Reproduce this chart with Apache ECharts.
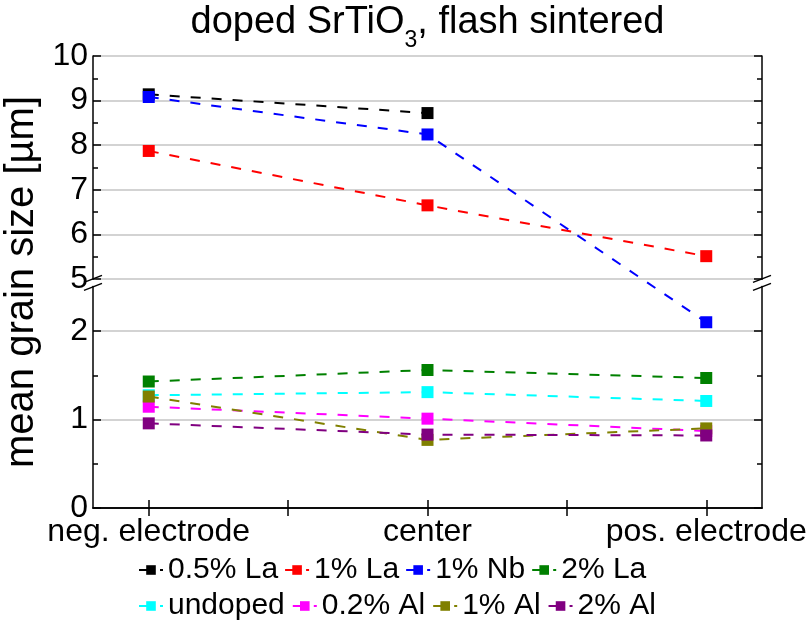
<!DOCTYPE html>
<html>
<head>
<meta charset="UTF-8">
<script src="https://cdn.jsdelivr.net/npm/echarts@6/dist/echarts.min.js"></script>
</head>
<body style="margin:0;background:#fff">
<div id="main" style="width:809px;height:621px"></div>
<script>
// positions along x
var categories = ['neg. electrode', 'center', 'pos. electrode'];
var catPos = [1, 2, 3];

// mean grain size [um], per sample: neg. electrode, center, pos. electrode
var la05 = [9.14, 8.72, null];
var la1 = [7.87, 6.65, 5.51];
var nb1 = [9.08, 8.24, 2.10];
var la2 = [1.43, 1.56, 1.47];
var undoped = [1.275, 1.31, 1.21];
var al02 = [1.145, 1.01, 0.87];
var al1 = [1.26, 0.77, 0.90];
var al2 = [0.957, 0.83, 0.82];

var names = ['0.5% La', '1% La', '1% Nb', '2% La', 'undoped', '0.2% Al', '1% Al', '2% Al'];
var colors = ['#000000', '#ff0000', '#0000ff', '#008000', '#00ffff', '#ff00ff', '#808000', '#800080'];
var values = [la05, la1, nb1, la2, undoped, al02, al1, al2];

var majorTicks = [0, 1, 2, 5, 6, 7, 8, 9, 10];
var minorTicks = [0.5, 1.5, 5.5, 6.5, 7.5, 8.5, 9.5];

// broken axis: 0..2.5 below, 5..10 above with a compressed scale
var LOW_MAX = 2.5, HIGH_MIN = 5, HIGH_MAX = 10;
var HIGH_RATIO = 0.504, GAP = 0.09;
function toAxis(v) {
    return v <= LOW_MAX ? v : LOW_MAX + GAP + (v - HIGH_MIN) * HIGH_RATIO;
}
function fromAxis(a) {
    return a <= LOW_MAX + 1e-6 ? a : HIGH_MIN + (a - LOW_MAX - GAP) / HIGH_RATIO;
}

var FONT = 'Liberation Sans, Arial, sans-serif';
var X_MIN = 0.8, X_MAX = 3.2;
var Y_MAX = toAxis(HIGH_MAX);

function yAx(pos, ticks, len, labels, line, split) {
    return {
        type: 'value', position: pos, min: 0, max: Y_MAX,
        axisLine: { show: line, lineStyle: { color: '#000', width: 1.5 } },
        axisTick: { show: true, inside: true, length: len, customValues: ticks.map(toAxis), lineStyle: { color: '#000', width: 1.5 } },
        axisLabel: labels ? {
            show: true, margin: 5, fontSize: 32, color: '#000', fontFamily: FONT,
            customValues: ticks.map(toAxis),
            formatter: function (v) { return String(Math.round(fromAxis(v))); }
        } : { show: false },
        splitLine: { show: split, lineStyle: { color: '#c4c4c4', width: 1.5 } }
    };
}

function xAx(pos, labels) {
    return {
        type: 'value', position: pos, min: X_MIN, max: X_MAX,
        axisLine: { show: true, lineStyle: { color: '#000', width: 1.5 } },
        axisTick: { show: true, inside: true, length: 8, customValues: [1, 1.5, 2, 2.5, 3], lineStyle: { color: '#000', width: 1.5 } },
        axisLabel: labels ? {
            show: true, margin: 8, fontSize: 32, color: '#000', fontFamily: FONT,
            customValues: catPos,
            formatter: function (v) { return categories[Math.round(v) - 1]; }
        } : { show: false },
        splitLine: { show: false }
    };
}

var series = names.map(function (n, i) {
    var pts = [];
    values[i].forEach(function (v, j) {
        if (v !== null) pts.push([catPos[j], toAxis(v)]);
    });
    return {
        name: n, type: 'line', data: pts,
        symbol: 'rect', symbolSize: 12,
        itemStyle: { color: colors[i] },
        lineStyle: { color: colors[i], width: 2, type: [10, 11] },
        z: 10 + i
    };
});

var legendText = { fontSize: 30, color: '#000', fontFamily: FONT };

var leftAxis = yAx('left', majorTicks, 8, true, true, true);
leftAxis.name = 'mean grain size [µm]';
leftAxis.nameLocation = 'middle';
leftAxis.nameGap = 31;
leftAxis.nameTextStyle = { fontSize: 40, color: '#000', fontFamily: FONT };

var option = {
    animation: false,
    grid: { left: 93, right: 47, top: 56, bottom: 113, outerBoundsMode: 'none', containLabel: false },
    xAxis: [xAx('bottom', true), xAx('top', false)],
    yAxis: [
        leftAxis,
        yAx('left', minorTicks, 5, false, false, false),
        yAx('right', majorTicks, 8, false, true, false),
        yAx('right', minorTicks, 5, false, false, false)
    ],
    legend: [
        { data: names.slice(0, 4), left: 133, top: 550, itemWidth: 24, itemHeight: 12, itemGap: 6, textStyle: legendText },
        { data: names.slice(4), left: 133, top: 586, itemWidth: 24, itemHeight: 12, itemGap: 7, textStyle: legendText }
    ],
    series: series
};

var chart = echarts.init(document.getElementById('main'));
chart.setOption(option);

// axis break marks and title
var yUp = chart.convertToPixel({ yAxisIndex: 0 }, toAxis(HIGH_MIN));
var yLo = chart.convertToPixel({ yAxisIndex: 0 }, LOW_MAX);
var xL = chart.convertToPixel({ xAxisIndex: 0 }, X_MIN);
var xR = chart.convertToPixel({ xAxisIndex: 0 }, X_MAX);
var g = [];
[xL, xR].forEach(function (x) {
    g.push({ type: 'rect', shape: { x: x - 3, y: yUp + 1, width: 6, height: yLo - yUp - 2 }, style: { fill: '#fff' }, z: 100 });
    [yUp, yLo].forEach(function (y) {
        g.push({ type: 'line', shape: { x1: x - 9, y1: y + 3.5, x2: x + 9, y2: y - 3.5 }, style: { stroke: '#000', lineWidth: 1.5 }, z: 101 });
    });
});
g.push({
    type: 'text', x: (xL + xR) / 2, y: 4, z: 100,
    style: {
        text: '{m|doped SrTiO}{s|3}{m|, flash sintered}',
        align: 'center', verticalAlign: 'top',
        rich: {
            m: { fontSize: 38, fontFamily: FONT, fill: '#000', lineHeight: 42, verticalAlign: 'top' },
            s: { fontSize: 23, fontFamily: FONT, fill: '#000', lineHeight: 23, verticalAlign: 'top', padding: [25, 0, 0, 0] }
        }
    }
});
chart.setOption({ graphic: g });
</script>
</body>
</html>
